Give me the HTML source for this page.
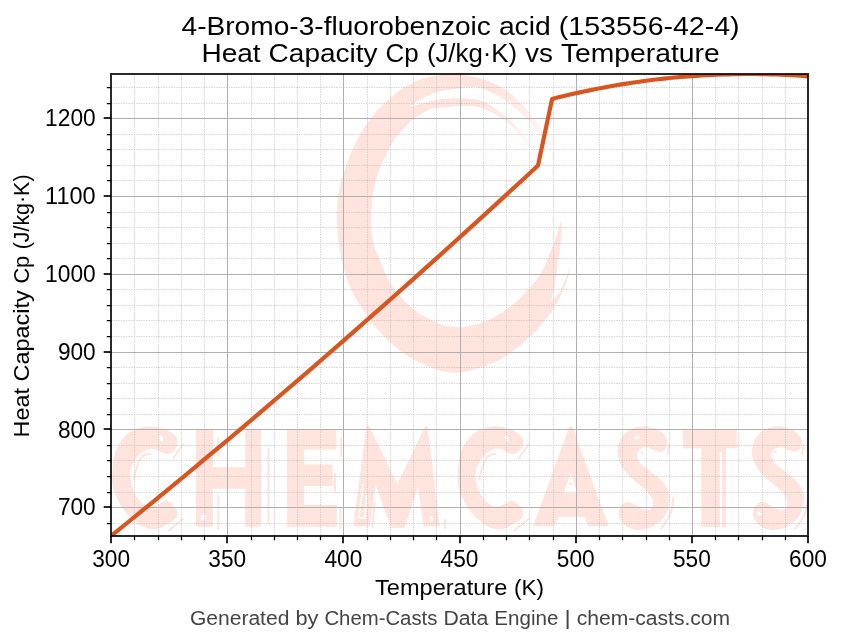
<!DOCTYPE html>
<html lang="en"><head><meta charset="utf-8"><title>4-Bromo-3-fluorobenzoic acid - Heat Capacity Cp vs Temperature</title>
<style>html,body{margin:0;padding:0;background:#fff}svg{display:block;will-change:transform}text{font-family:"Liberation Sans",sans-serif;fill:#000}</style>
</head><body>
<svg width="843" height="644" viewBox="0 0 843 644">
<rect width="843" height="644" fill="#fff"/>
<defs><clipPath id="ax"><rect x="111" y="74" width="697" height="462"/></clipPath></defs>
<defs><linearGradient id="fade" gradientUnits="userSpaceOnUse" x1="490" y1="92" x2="548" y2="150"><stop offset="0" stop-color="#fff" stop-opacity="0"/><stop offset="1" stop-color="#fff" stop-opacity="0.75"/></linearGradient></defs>
<g clip-path="url(#ax)" fill="#ffe4de" stroke="none">
<path d="M553.3 149.2C553.3 149.2 549.0 141.2 546.3 136.8C543.6 132.4 540.6 127.7 537.0 122.8C533.4 117.9 528.7 112.0 524.5 107.3C520.3 102.6 516.6 98.5 512.0 94.8C507.4 91.0 501.8 87.5 496.6 84.8C491.4 82.1 486.2 80.1 481.0 78.5C475.8 76.9 470.7 76.1 465.5 75.4C460.3 74.8 454.5 74.6 450.0 74.6C445.5 74.6 443.2 74.8 438.7 75.4C434.2 76.1 428.4 76.8 423.2 78.5C418.0 80.2 412.8 82.5 407.6 85.5C402.4 88.5 397.3 92.1 392.1 96.4C386.9 100.7 381.4 105.7 376.6 111.1C371.8 116.5 367.3 122.9 363.4 129.0C359.5 135.1 356.2 141.3 353.3 147.6C350.4 153.9 347.9 161.3 345.8 167.0C343.7 172.7 342.2 176.6 340.9 182.0C339.6 187.4 338.4 193.5 337.8 199.2C337.2 204.9 337.0 210.2 337.0 216.2C337.0 222.1 337.3 228.9 337.8 234.9C338.3 240.9 339.2 247.0 340.1 252.0C341.0 257.0 341.9 260.6 343.0 265.0C344.1 269.4 344.8 273.2 346.8 278.6C348.8 284.0 351.7 291.0 355.1 297.2C358.5 303.4 362.8 309.7 367.3 315.9C371.8 322.1 376.6 328.6 382.2 334.5C387.8 340.4 394.6 346.7 400.8 351.3C407.0 355.9 413.2 359.3 419.4 362.4C425.6 365.5 432.1 368.2 438.0 369.9C443.9 371.6 449.9 372.5 455.0 372.7C460.1 372.9 463.2 372.1 468.6 370.8C474.0 369.6 481.0 367.7 487.2 365.2C493.4 362.7 499.7 359.8 505.9 355.9C512.1 352.0 518.9 346.8 524.5 342.0C530.1 337.2 534.8 332.2 539.4 327.0C544.0 321.8 548.3 316.5 552.0 311.0C555.7 305.5 558.8 299.7 561.5 294.0C564.2 288.3 566.5 281.9 568.0 277.0C569.5 272.1 570.6 264.6 570.6 264.6C570.6 264.6 567.0 275.2 565.0 280.0C563.0 284.8 561.2 289.9 558.8 293.5C556.4 297.1 550.4 301.8 550.4 301.8C550.4 301.8 552.8 295.2 553.8 290.5C554.8 285.8 555.5 279.1 556.4 273.4C557.2 267.7 558.1 262.0 558.9 256.3C559.7 250.6 560.8 245.1 561.2 239.0C561.6 232.9 561.4 219.8 561.4 219.8C561.4 219.8 557.4 233.1 555.3 239.2C553.1 245.3 550.9 250.6 548.5 256.3C546.1 262.0 544.1 268.0 540.8 273.4C537.5 278.8 532.8 284.2 528.8 288.8C524.8 293.4 521.5 297.1 517.1 301.0C512.7 304.9 507.2 308.9 502.2 312.2C497.2 315.4 492.8 318.1 487.2 320.5C481.6 322.9 473.1 325.2 468.6 326.3C464.1 327.4 463.1 327.2 460.0 327.3C456.9 327.4 453.4 327.2 450.0 326.6C446.6 326.1 444.4 325.8 439.9 324.0C435.4 322.2 428.4 319.1 423.1 315.9C417.8 312.7 412.9 309.0 408.2 304.7C403.5 300.4 398.9 294.8 395.2 289.8C391.5 284.8 388.4 279.9 385.9 274.9C383.3 269.9 381.7 264.4 379.9 260.0C378.1 255.7 376.3 253.2 375.0 248.8C373.7 244.4 372.5 239.0 371.9 233.3C371.2 227.6 371.0 220.9 371.1 214.7C371.2 208.5 371.9 201.7 372.7 196.0C373.5 190.3 374.4 185.7 375.8 180.5C377.2 175.3 379.2 169.7 381.2 165.0C383.1 160.3 385.2 156.8 387.5 152.3C389.8 147.9 392.1 142.7 395.2 138.3C398.3 133.9 402.5 129.5 406.1 125.9C409.7 122.3 412.9 119.4 417.0 116.6C421.1 113.8 427.4 110.3 430.9 108.8C434.4 107.3 435.2 108.1 438.0 107.8C440.8 107.5 444.2 107.2 447.4 106.9C450.5 106.7 453.7 106.5 456.9 106.3C460.1 106.1 463.2 106.0 466.4 106.0C469.6 106.0 473.0 106.1 475.9 106.6C478.8 107.1 480.3 107.4 484.0 109.0C487.7 110.6 493.3 113.1 498.0 116.0C502.7 118.9 507.3 122.2 512.0 126.5C516.7 130.8 522.0 136.9 526.0 141.9C530.0 146.9 536.0 156.5 536.0 156.5C536.0 156.5 530.0 144.7 526.0 139.0C522.0 133.3 516.7 127.1 512.0 122.3C507.3 117.5 502.7 113.7 498.0 110.4C493.3 107.1 487.7 104.1 484.0 102.3C480.3 100.5 478.8 100.2 475.9 99.6C473.0 99.0 469.6 98.8 466.4 98.6C463.2 98.4 460.1 98.3 456.9 98.3C453.7 98.3 450.5 98.5 447.4 98.7C444.2 98.9 441.1 99.0 438.0 99.5C434.9 100.0 431.7 100.7 428.5 101.5C425.3 102.3 422.2 103.5 419.0 104.4C415.8 105.3 409.0 106.8 409.0 106.8C409.0 106.8 415.8 102.3 419.0 100.4C422.2 98.5 425.3 97.1 428.5 95.6C431.7 94.1 434.9 92.5 438.0 91.6C441.1 90.6 444.2 90.4 447.4 89.9C450.5 89.4 453.7 89.2 456.9 88.8C460.1 88.4 463.2 87.9 466.4 87.6C469.6 87.3 473.0 86.7 475.9 87.0C478.8 87.3 480.3 87.8 484.0 89.3C487.7 90.8 493.3 93.1 498.0 95.8C502.7 98.5 507.3 101.8 512.0 105.5C516.7 109.2 521.8 113.9 526.0 118.1C530.2 122.3 533.3 126.3 537.0 130.7C540.7 135.1 545.6 141.6 548.3 144.7C551.0 147.8 553.3 149.2 553.3 149.2Z"/>
<path d="M488 76L560 110V165H520L470 112z" fill="url(#fade)"/>
<path d="M177.6 440.2C177.4 438.0 176.1 436.8 174.6 435.3C173.1 433.8 171.2 432.4 168.6 431.1C166.0 429.8 162.3 428.2 158.9 427.5C155.5 426.8 151.6 426.4 148.0 426.6C144.4 426.8 140.5 427.4 137.1 428.7C133.7 429.9 130.2 431.8 127.4 434.1C124.6 436.4 122.1 439.6 120.1 442.6C118.1 445.6 116.5 448.4 115.3 452.3C114.1 456.2 113.4 461.2 112.9 466.0C112.4 470.8 112.0 476.6 112.3 480.9C112.6 485.2 113.0 487.6 114.5 491.8C116.0 496.0 118.5 501.7 121.0 505.9C123.5 510.1 126.5 513.5 129.8 516.8C133.1 520.1 137.3 523.5 140.6 525.5C143.8 527.5 146.4 528.1 149.3 528.7C152.2 529.3 155.1 529.6 158.0 528.9C160.9 528.2 163.8 526.3 166.7 524.6C169.6 522.9 173.6 520.9 175.4 518.9C177.2 516.9 178.0 514.6 177.8 512.4C177.6 510.2 176.2 507.9 174.3 505.9C172.5 503.9 168.9 501.1 166.7 500.5C164.5 499.9 163.3 501.7 161.3 502.6C159.3 503.5 157.2 505.3 154.8 505.9C152.5 506.4 149.8 506.8 147.2 505.9C144.6 505.0 141.7 502.9 139.5 500.5C137.3 498.1 135.5 495.1 134.1 491.8C132.7 488.5 131.4 484.5 130.8 480.9C130.2 477.3 129.9 473.4 130.5 470.0C131.1 466.6 132.9 463.6 134.6 460.8C136.3 458.1 138.5 455.4 140.7 453.5C142.9 451.6 145.4 450.0 148.0 449.3C150.6 448.6 154.2 448.8 156.4 449.3C158.6 449.8 159.3 451.5 161.3 452.3C163.3 453.1 166.2 454.7 168.6 454.1C171.0 453.5 174.3 450.9 175.8 448.6C177.3 446.3 177.8 442.4 177.6 440.2Z"/>
<path d="M523.1 440.2C522.9 438.0 521.6 436.8 520.1 435.3C518.6 433.8 516.7 432.4 514.1 431.1C511.5 429.8 507.8 428.2 504.4 427.5C501.0 426.8 497.1 426.4 493.5 426.6C489.9 426.8 486.0 427.4 482.6 428.7C479.2 429.9 475.7 431.8 472.9 434.1C470.1 436.4 467.6 439.6 465.6 442.6C463.6 445.6 462.0 448.4 460.8 452.3C459.6 456.2 458.9 461.2 458.4 466.0C457.9 470.8 457.5 476.6 457.8 480.9C458.1 485.2 458.6 487.6 460.0 491.8C461.4 496.0 463.9 501.7 466.5 505.9C469.1 510.1 472.0 513.5 475.3 516.8C478.6 520.1 482.9 523.5 486.1 525.5C489.4 527.5 491.9 528.1 494.8 528.7C497.7 529.3 500.6 529.6 503.5 528.9C506.4 528.2 509.3 526.3 512.2 524.6C515.1 522.9 519.0 520.9 520.9 518.9C522.8 516.9 523.5 514.6 523.3 512.4C523.1 510.2 521.6 507.9 519.8 505.9C517.9 503.9 514.4 501.1 512.2 500.5C510.0 499.9 508.8 501.7 506.8 502.6C504.8 503.5 502.7 505.3 500.3 505.9C497.9 506.4 495.2 506.8 492.7 505.9C490.1 505.0 487.2 502.9 485.0 500.5C482.8 498.1 481.1 495.1 479.6 491.8C478.2 488.5 476.9 484.5 476.3 480.9C475.7 477.3 475.4 473.4 476.0 470.0C476.6 466.6 478.4 463.6 480.1 460.8C481.8 458.1 484.0 455.4 486.2 453.5C488.4 451.6 490.9 450.0 493.5 449.3C496.1 448.6 499.7 448.8 501.9 449.3C504.1 449.8 504.8 451.5 506.8 452.3C508.8 453.1 511.7 454.7 514.1 454.1C516.5 453.5 519.8 450.9 521.3 448.6C522.8 446.3 523.3 442.4 523.1 440.2Z"/>
<path d="M196 428.9h17v38.4h32.1v-38.4h16.1v97.9h-16.1v-38h-32.1v38h-17z"/>
<path d="M287.1 428.9h49.2v20.6h-32.2v15.1h28.6v21.4h-28.6v18.8h32.7v22h-49.7z"/>
<path d="M353.2 526.4L366.4 426.2L368.8 425.4L397.4 484L425.3 426.2L427.5 426.6L439.7 526.4H423.5L418.1 486.7L404.6 528H391L375.7 484.9L369.4 526.4z"/>
<path fill-rule="evenodd" d="M533 526.3L569.4 426.3h2.9L608.7 526.3H587.9L585 516.8H559.2L553.7 526.3zM570.8 473.1L563.6 493h13.5z"/>
<path d="M682.9 429h53.8v19.3h-10.8v78.7h-24.6v-78.7h-18.4z"/>
<path d="M644.2 426.3C648.1 426.2 651.7 427.2 655.0 428.6C658.3 430.0 661.9 431.9 664.0 434.4C666.1 436.9 668.0 440.5 667.7 443.4C667.4 446.2 664.7 450.4 662.3 451.5C659.9 452.6 655.9 450.4 653.2 449.7C650.5 448.9 648.2 447.0 646.0 447.0C643.8 447.0 641.2 448.2 639.7 449.7C638.2 451.2 636.9 453.8 637.0 456.0C637.1 458.2 638.2 460.5 640.6 463.2C643.0 465.9 647.8 469.3 651.4 472.3C655.0 475.3 659.4 478.0 662.3 481.3C665.2 484.6 667.4 488.7 668.6 492.0C669.8 495.3 669.8 497.7 669.5 501.0C669.2 504.3 668.3 508.6 666.8 511.9C665.3 515.2 663.4 518.2 660.5 520.9C657.6 523.6 653.5 526.6 649.6 528.1C645.7 529.6 640.9 530.2 637.0 529.9C633.1 529.6 629.1 528.1 626.2 526.3C623.4 524.5 621.1 521.8 619.9 519.1C618.7 516.4 618.2 512.8 619.0 510.1C619.8 507.4 622.3 504.1 624.4 502.9C626.5 501.7 628.9 502.0 631.6 502.9C634.3 503.8 637.9 507.1 640.6 508.3C643.3 509.5 645.8 510.4 647.8 510.1C649.8 509.8 651.5 508.3 652.3 506.5C653.0 504.7 653.3 502.0 652.3 499.3C651.2 496.6 648.9 493.3 646.0 490.3C643.1 487.3 638.8 484.6 635.2 481.3C631.6 478.0 627.2 474.4 624.4 470.5C621.5 466.6 619.1 461.7 618.1 457.8C617.1 453.9 617.4 450.6 618.1 447.0C618.9 443.4 620.4 439.2 622.6 436.2C624.9 433.2 628.0 430.6 631.6 429.0C635.2 427.4 640.3 426.4 644.2 426.3Z"/>
<path d="M778.6 426.3C782.5 426.2 786.1 427.2 789.4 428.6C792.7 430.0 796.3 431.9 798.4 434.4C800.5 436.9 802.4 440.5 802.1 443.4C801.8 446.2 799.1 450.4 796.7 451.5C794.3 452.6 790.3 450.4 787.6 449.7C784.9 448.9 782.6 447.0 780.4 447.0C778.1 447.0 775.6 448.2 774.1 449.7C772.6 451.2 771.2 453.8 771.4 456.0C771.5 458.2 772.6 460.5 775.0 463.2C777.4 465.9 782.2 469.3 785.8 472.3C789.4 475.3 793.8 478.0 796.7 481.3C799.6 484.6 801.8 488.7 803.0 492.0C804.2 495.3 804.2 497.7 803.9 501.0C803.6 504.3 802.7 508.6 801.2 511.9C799.7 515.2 797.8 518.2 794.9 520.9C792.0 523.6 787.9 526.6 784.0 528.1C780.1 529.6 775.3 530.2 771.4 529.9C767.5 529.6 763.5 528.1 760.6 526.3C757.8 524.5 755.5 521.8 754.3 519.1C753.1 516.4 752.6 512.8 753.4 510.1C754.1 507.4 756.7 504.1 758.8 502.9C760.9 501.7 763.3 502.0 766.0 502.9C768.7 503.8 772.3 507.1 775.0 508.3C777.7 509.5 780.2 510.4 782.2 510.1C784.1 509.8 785.9 508.3 786.7 506.5C787.4 504.7 787.7 502.0 786.7 499.3C785.6 496.6 783.2 493.3 780.4 490.3C777.5 487.3 773.2 484.6 769.6 481.3C766.0 478.0 761.6 474.4 758.8 470.5C755.9 466.6 753.5 461.7 752.5 457.8C751.5 453.9 751.8 450.6 752.5 447.0C753.2 443.4 754.8 439.2 757.0 436.2C759.2 433.2 762.4 430.6 766.0 429.0C769.6 427.4 774.7 426.4 778.6 426.3Z"/>
</g>
<g clip-path="url(#ax)" fill="none" stroke="#ffe4de" stroke-width="2" stroke-linecap="round">
<path d="M218.3 438v18M218.3 495v34M268.4 449v75M341.2 438v18M335 474v18M340.5 510v18"/>
<path d="M150.4 453.7C149.2 454.1 145.1 454.3 143.1 455.9C141.1 457.5 139.6 460.4 138.3 463.2C137.0 466.0 136.0 470.2 135.3 472.9C134.6 475.6 134.2 478.4 134.0 479.5"/><path d="M495.9 453.7C494.7 454.1 490.6 454.3 488.6 455.9C486.6 457.5 485.1 460.4 483.8 463.2C482.5 466.0 481.5 470.2 480.8 472.9C480.1 475.6 479.7 478.4 479.5 479.5"/>
<path d="M183.1 444.4L173.4 458.3M528.6 444.4L518.9 458.3M168.9 530.4L183 518.9M514.4 530.4L528.5 518.9"/>
<path d="M669.5 445l-1.8 9M673 497.5q1 17 -12.5 31.5M803.9 445l-1.8 9M807.4 497.5q1 17 -12.5 31.5M445 520v8"/>
<path d="M374.5 503l-2 24M408 508l-8 18"/>
<circle cx="570.5" cy="483.6" r="0.6"/>
<circle cx="775.2" cy="451.6" r="0.5"/>
<circle cx="641.6" cy="452.4" r="0.5"/>
</g>
<g clip-path="url(#ax)" fill="#fff" stroke="none">
<ellipse cx="161.3" cy="438.4" rx="1.8" ry="3.2" transform="rotate(-12 161.3 438.4)"/>
<ellipse cx="506.8" cy="438.4" rx="1.8" ry="3.2" transform="rotate(-12 506.8 438.4)"/>
<ellipse cx="203.2" cy="517.3" rx="2" ry="3.6" transform="rotate(15 203.2 517.3)"/>
<ellipse cx="308.2" cy="455.7" rx="1.6" ry="3.4"/>
<ellipse cx="637" cy="437.5" rx="2.4" ry="2"/>
<rect x="719.8" y="452" width="2.2" height="75"/>
<path d="M363.1 484L359 517.6L364.9 518.3L366.7 495.7" fill="none" stroke="#fff" stroke-width="1.5" stroke-linejoin="round" stroke-linecap="round"/>
<ellipse cx="431.6" cy="518.3" rx="1.5" ry="2.6" transform="rotate(-15 431.6 518.3)"/>
<path d="M418.3 498.5l-2.8 6.5" fill="none" stroke="#fff" stroke-width="1.4" stroke-linecap="round"/>
<ellipse cx="759" cy="513.8" rx="1.6" ry="2.6" transform="rotate(-25 759 513.8)"/>
</g>
<g clip-path="url(#ax)" fill="none">
<path d="M134.5 74V536M158.5 74V536M181.5 74V536M204.5 74V536M251.5 74V536M274.5 74V536M297.5 74V536M320.5 74V536M367.5 74V536M390.5 74V536M413.5 74V536M436.5 74V536M483.5 74V536M506.5 74V536M529.5 74V536M553.5 74V536M599.5 74V536M622.5 74V536M646.5 74V536M669.5 74V536M715.5 74V536M738.5 74V536M762.5 74V536M785.5 74V536M111 523.5H808M111 492.5H808M111 476.5H808M111 460.5H808M111 445.5H808M111 414.5H808M111 398.5H808M111 383.5H808M111 367.5H808M111 336.5H808M111 320.5H808M111 305.5H808M111 289.5H808M111 258.5H808M111 243.5H808M111 227.5H808M111 212.5H808M111 180.5H808M111 165.5H808M111 149.5H808M111 134.5H808M111 103.5H808M111 87.5H808" stroke="#b0b0b0" stroke-opacity="0.5" stroke-width="1" stroke-dasharray="1.5 1"/>
<path d="M227.5 74V536M343.5 74V536M460.5 74V536M576.5 74V536M692.5 74V536M111 507.5H808M111 429.5H808M111 352.5H808M111 274.5H808M111 196.5H808M111 118.5H808" stroke="#b0b0b0" stroke-width="1"/>
<path d="M111.0 536.0 L125.2 524.5 L139.5 512.9 L153.7 501.3 L167.9 489.6 L182.2 477.9 L196.4 466.1 L210.6 454.2 L224.9 442.3 L239.1 430.3 L253.3 418.3 L267.6 406.2 L281.8 394.0 L296.0 381.8 L310.3 369.6 L324.5 357.2 L338.7 344.9 L353.0 332.4 L367.2 319.9 L381.4 307.4 L395.7 294.8 L409.9 282.1 L424.1 269.4 L438.4 256.6 L452.6 243.8 L466.8 230.9 L481.1 217.9 L495.3 204.9 L509.5 191.8 L523.8 178.7 L538.0 165.5 L552.1 98.9 L557.4 97.6 L562.8 96.3 L568.1 95.0 L573.4 93.8 L578.8 92.6 L584.1 91.5 L589.4 90.4 L594.8 89.3 L600.1 88.2 L605.4 87.2 L610.7 86.3 L616.1 85.3 L621.4 84.4 L626.7 83.6 L632.1 82.8 L637.4 82.0 L642.7 81.2 L648.1 80.5 L653.4 79.8 L658.7 79.2 L664.1 78.6 L669.4 78.0 L674.7 77.5 L680.0 77.0 L685.4 76.6 L690.7 76.2 L696.0 75.8 L701.4 75.4 L706.7 75.1 L712.0 74.9 L717.4 74.6 L722.7 74.4 L728.0 74.3 L733.4 74.1 L738.7 74.1 L744.0 74.0 L749.4 74.0 L754.7 74.0 L760.0 74.1 L765.4 74.2 L770.7 74.3 L776.0 74.5 L781.3 74.7 L786.7 74.9 L792.0 75.2 L797.3 75.5 L802.7 75.9 L808.0 76.3" stroke="#d9541e" stroke-width="4.17" stroke-linejoin="round" stroke-linecap="butt"/>
</g>
<path d="M111 536v7.3M227 536v7.3M343 536v7.3M460 536v7.3M576 536v7.3M692 536v7.3M808 536v7.3M111 507h-7.3M111 429h-7.3M111 352h-7.3M111 274h-7.3M111 196h-7.3M111 118h-7.3" stroke="#000" stroke-opacity="0.84" stroke-width="2" fill="none"/>
<path d="M134.5 536v4.2M158.5 536v4.2M181.5 536v4.2M204.5 536v4.2M251.5 536v4.2M274.5 536v4.2M297.5 536v4.2M320.5 536v4.2M367.5 536v4.2M390.5 536v4.2M413.5 536v4.2M436.5 536v4.2M483.5 536v4.2M506.5 536v4.2M529.5 536v4.2M553.5 536v4.2M599.5 536v4.2M622.5 536v4.2M646.5 536v4.2M669.5 536v4.2M715.5 536v4.2M738.5 536v4.2M762.5 536v4.2M785.5 536v4.2M111 523.5h-4.2M111 492.5h-4.2M111 476.5h-4.2M111 460.5h-4.2M111 445.5h-4.2M111 414.5h-4.2M111 398.5h-4.2M111 383.5h-4.2M111 367.5h-4.2M111 336.5h-4.2M111 320.5h-4.2M111 305.5h-4.2M111 289.5h-4.2M111 258.5h-4.2M111 243.5h-4.2M111 227.5h-4.2M111 212.5h-4.2M111 180.5h-4.2M111 165.5h-4.2M111 149.5h-4.2M111 134.5h-4.2M111 103.5h-4.2M111 87.5h-4.2" stroke="#000" stroke-width="1.25" fill="none"/>
<rect x="111" y="74" width="697" height="462" fill="none" stroke="#000" stroke-opacity="0.84" stroke-width="2"/>
<text y="35" font-size="26.4"><tspan x="181.5" textLength="309.4" lengthAdjust="spacingAndGlyphs">4-Bromo-3-fluorobenzoic</tspan> <tspan x="498.9" textLength="51.9" lengthAdjust="spacingAndGlyphs">acid</tspan> <tspan x="558.8" textLength="180.8" lengthAdjust="spacingAndGlyphs">(153556-42-4)</tspan></text>
<text y="62" font-size="26.4"><tspan x="201.4" textLength="59.2" lengthAdjust="spacingAndGlyphs">Heat</tspan> <tspan x="268.6" textLength="109.0" lengthAdjust="spacingAndGlyphs">Capacity</tspan> <tspan x="385.6" textLength="33.2" lengthAdjust="spacingAndGlyphs">Cp</tspan> <tspan x="426.9" textLength="90.2" lengthAdjust="spacingAndGlyphs">(J/kg·K)</tspan> <tspan x="525.1" textLength="27.9" lengthAdjust="spacingAndGlyphs">vs</tspan> <tspan x="561.0" textLength="158.6" lengthAdjust="spacingAndGlyphs">Temperature</tspan></text>
<text y="594.7" font-size="22.0"><tspan x="375.1" textLength="132.2" lengthAdjust="spacingAndGlyphs">Temperature</tspan> <tspan x="514.0" textLength="29.9" lengthAdjust="spacingAndGlyphs">(K)</tspan></text>
<g transform="translate(29.4,437.4) rotate(-90)">
<text y="0" font-size="22.0"><tspan x="0.0" textLength="49.4" lengthAdjust="spacingAndGlyphs">Heat</tspan> <tspan x="56.0" textLength="91.1" lengthAdjust="spacingAndGlyphs">Capacity</tspan> <tspan x="153.8" textLength="27.8" lengthAdjust="spacingAndGlyphs">Cp</tspan> <tspan x="188.1" textLength="74.8" lengthAdjust="spacingAndGlyphs">(J/kg·K)</tspan></text>
</g>
<text y="624.5" font-size="20.0" style="fill:#444"><tspan x="189.9" textLength="99.5" lengthAdjust="spacingAndGlyphs">Generated</tspan> <tspan x="295.4" textLength="23.0" lengthAdjust="spacingAndGlyphs">by</tspan> <tspan x="324.4" textLength="113.0" lengthAdjust="spacingAndGlyphs">Chem-Casts</tspan> <tspan x="443.4" textLength="44.9" lengthAdjust="spacingAndGlyphs">Data</tspan> <tspan x="494.3" textLength="64.1" lengthAdjust="spacingAndGlyphs">Engine</tspan> <tspan x="564.4" textLength="6.2" lengthAdjust="spacingAndGlyphs">|</tspan> <tspan x="576.7" textLength="153.4" lengthAdjust="spacingAndGlyphs">chem-casts.com</tspan></text>
<text x="92.2" y="567" font-size="23.0" text-anchor="start" textLength="37.8" lengthAdjust="spacingAndGlyphs">300</text>
<text x="208.3" y="567" font-size="23.0" text-anchor="start" textLength="37.8" lengthAdjust="spacingAndGlyphs">350</text>
<text x="324.5" y="567" font-size="23.0" text-anchor="start" textLength="37.8" lengthAdjust="spacingAndGlyphs">400</text>
<text x="440.6" y="567" font-size="23.0" text-anchor="start" textLength="37.8" lengthAdjust="spacingAndGlyphs">450</text>
<text x="556.8" y="567" font-size="23.0" text-anchor="start" textLength="37.8" lengthAdjust="spacingAndGlyphs">500</text>
<text x="673.0" y="567" font-size="23.0" text-anchor="start" textLength="37.8" lengthAdjust="spacingAndGlyphs">550</text>
<text x="789.1" y="567" font-size="23.0" text-anchor="start" textLength="37.8" lengthAdjust="spacingAndGlyphs">600</text>
<text x="57.9" y="515.3" font-size="23.0" text-anchor="start" textLength="37.8" lengthAdjust="spacingAndGlyphs">700</text>
<text x="57.9" y="437.5" font-size="23.0" text-anchor="start" textLength="37.8" lengthAdjust="spacingAndGlyphs">800</text>
<text x="57.9" y="359.7" font-size="23.0" text-anchor="start" textLength="37.8" lengthAdjust="spacingAndGlyphs">900</text>
<text x="45.1" y="282.0" font-size="23.0" text-anchor="start" textLength="50.6" lengthAdjust="spacingAndGlyphs">1000</text>
<text x="45.1" y="204.2" font-size="23.0" text-anchor="start" textLength="50.6" lengthAdjust="spacingAndGlyphs">1100</text>
<text x="45.1" y="126.4" font-size="23.0" text-anchor="start" textLength="50.6" lengthAdjust="spacingAndGlyphs">1200</text>
</svg>
</body></html>
